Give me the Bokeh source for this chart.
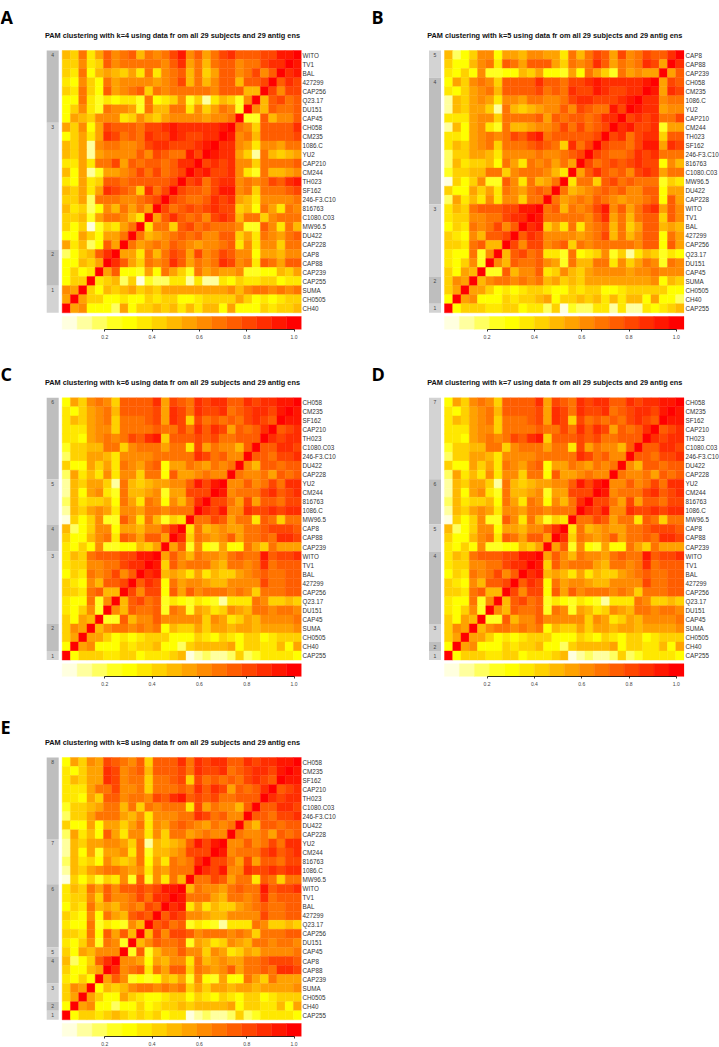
from bokeh.embed import file_html
from bokeh.resources import INLINE
from bokeh.plotting import figure
from bokeh.layouts import column, row
from bokeh.models import ColumnDataSource, FixedTicker, LinearAxis, LinearColorMapper, Range1d
from bokeh.transform import transform
from bokeh.core.properties import value

PALETTE = ["#FFFFDF", "#FFFF9F", "#FFFF60", "#FFFF20", "#FFFF00", "#FFE800", "#FFD100", "#FFB900",
           "#FFA200", "#FF8B00", "#FF7400", "#FF5D00", "#FF4600", "#FF2E00", "#FF1700", "#FF0000"]

# Reference order (panel A, top to bottom); the matrix below is symmetric, so each
# row holds the cells left of and on the diagonal in that panel, in hundredths.
ANTIGENS = ["WITO", "TV1", "BAL", "427299", "CAP256", "Q23.17", "DU151", "CAP45", "CH058", "CM235",
            "1086.C", "YU2", "CAP210", "CM244", "TH023", "SF162", "246-F3.C10", "816763", "C1080.C03",
            "MW96.5", "DU422", "CAP228", "CAP8", "CAP88", "CAP239", "CAP255", "SUMA", "CH0505", "CH40"]
SIMILARITY = [
    [49,43,68,37,56,75,62,68,75,49,68,62,68,81,94,62,75,56,68,81,87,75,75,75,81,81,94,94,100],
    [43,43,62,37,43,75,62,68,68,68,68,68,62,75,87,56,68,49,68,75,75,62,68,68,81,87,87,100],
    [43,37,68,30,49,56,49,43,56,37,68,37,62,68,75,49,68,43,56,75,75,62,68,81,62,75,100],
    [37,30,62,43,30,68,56,62,62,62,62,56,62,68,81,49,68,49,62,75,75,49,75,75,81,100],
    [43,37,68,43,30,75,56,62,68,75,43,68,62,68,68,68,68,68,62,75,75,75,49,49,100],
    [30,30,68,37,24,37,30,37,37,24,68,30,37,43,62,24,43,12,37,49,43,24,62,100],
    [30,43,62,37,24,68,62,62,56,24,68,49,49,68,68,37,62,43,56,68,62,24,100],
    [30,56,49,43,62,62,62,37,43,62,49,43,56,62,62,62,62,56,62,62,68,100],
    [56,43,62,30,56,81,75,75,75,68,81,81,87,94,87,87,87,87,87,94,100],
    [30,43,56,37,56,87,81,68,75,68,87,81,81,94,87,81,81,87,87,100],
    [49,43,56,12,62,68,68,62,62,68,81,87,87,81,81,81,87,94,100],
    [49,43,56,12,56,62,62,62,62,75,62,81,75,68,68,94,81,100],
    [37,37,56,37,68,68,81,56,75,68,75,75,68,75,87,87,100],
    [49,30,56,12,24,56,56,62,68,81,68,81,68,75,81,100],
    [37,30,56,37,43,75,75,68,75,75,75,75,75,81,100],
    [49,43,56,37,56,87,81,75,68,43,87,68,81,100],
    [43,43,56,18,68,68,68,62,62,68,75,81,100],
    [49,37,43,18,30,62,49,68,56,68,56,100],
    [43,43,49,24,56,68,68,62,49,37,100],
    [43,30,43,5,24,43,37,56,68,100],
    [30,30,56,43,30,56,56,68,100],
    [56,37,49,18,30,75,56,100],
    [18,30,43,49,75,87,100],
    [30,30,49,43,56,100],
    [30,43,30,37,100],
    [30,43,43,100],
    [62,56,100],
    [56,100],
    [100],
]

ORDER_B = ["CAP8", "CAP88", "CAP239", "CH058", "CM235", "1086.C", "YU2", "CAP210", "CM244", "TH023",
           "SF162", "246-F3.C10", "816763", "C1080.C03", "MW96.5", "DU422", "CAP228", "WITO", "TV1", "BAL",
           "427299", "CAP256", "Q23.17", "DU151", "CAP45", "SUMA", "CH0505", "CH40", "CAP255"]
ORDER_C = ["CH058", "CM235", "SF162", "CAP210", "TH023", "C1080.C03", "246-F3.C10", "DU422", "CAP228",
           "YU2", "CM244", "816763", "1086.C", "MW96.5", "CAP8", "CAP88", "CAP239", "WITO", "TV1", "BAL",
           "427299", "CAP256", "Q23.17", "DU151", "CAP45", "SUMA", "CH0505", "CH40", "CAP255"]
ORDER_E = ["CH058", "CM235", "SF162", "CAP210", "TH023", "C1080.C03", "246-F3.C10", "DU422", "CAP228",
           "YU2", "CM244", "816763", "1086.C", "MW96.5", "WITO", "TV1", "BAL", "427299", "Q23.17", "CAP256",
           "DU151", "CAP45", "CAP8", "CAP88", "CAP239", "SUMA", "CH0505", "CH40", "CAP255"]

CLUSTERS_A = [8, 14, 4, 3]
CLUSTERS_B = [3, 14, 8, 3, 1]
CLUSTERS_C = [9, 5, 3, 8, 3, 1]
CLUSTERS_D = [9, 5, 3, 8, 2, 1, 1]
CLUSTERS_E = [9, 5, 7, 1, 3, 2, 1, 1]
FIRST_SHADE = {"A": 0, "B": 1, "C": 0, "D": 1, "E": 0}
SHADES = ["#BEBEBE", "#D3D3D3"]
TICKS = [0.2, 0.4, 0.6, 0.8, 1.0]

lookup = {}
for i, r in enumerate(SIMILARITY):
    for j, v in enumerate(r):
        a, b = ANTIGENS[i], ANTIGENS[28 - j]
        lookup[(a, b)] = v / 100
        lookup[(b, a)] = v / 100

HEAT_W, HEAT_H = 239.5, 262.3
CW, RH = HEAT_W / 29, HEAT_H / 29
PER_PX = 0.2 / 47.3
HEAT_TICK02 = 42.6             # pixels from the heat map's left edge to the 0.2 tick
CB_LOW = 0.2 - HEAT_TICK02 * PER_PX
CB_HIGH = CB_LOW + HEAT_W * PER_PX
mapper = LinearColorMapper(palette=PALETTE, low=CB_LOW, high=CB_HIGH)
LEFT_OF_MAP = 15.5             # side bar starts this far left of the heat map
CHROME = "Liberation Sans"


def panel(letter, k, order, clusters, heat_left, heat_top, right, bottom, letter_x, letter_base):
    fw, fh = int(heat_left + HEAT_W + 0.5), int(heat_top + 279.3)
    xr = Range1d(-heat_left / CW, (fw - heat_left) / CW)
    yr = Range1d((fh - heat_top) / RH, -heat_top / RH)
    p = figure(frame_width=fw, frame_height=fh, min_border_left=0, min_border_right=right,
               min_border_top=0, min_border_bottom=bottom, output_backend="svg", toolbar_location=None,
               x_axis_type=None, y_axis_location="right", x_range=xr, y_range=yr,
               outline_line_color=None, background_fill_color="white", border_fill_color="white")
    p.extra_x_ranges = {"cb": Range1d(CB_LOW - heat_left * PER_PX, CB_LOW + (fw - heat_left) * PER_PX)}
    p.grid.visible = False

    xs, ys, vs = [], [], []
    for i, a in enumerate(order):
        for j in range(29):
            xs.append(j); ys.append(i); vs.append(lookup[(a, order[28 - j])])
    src = ColumnDataSource(dict(l=xs, r=[x + 1 for x in xs], t=ys, b=[y + 1 for y in ys], v=vs))
    col = transform("v", mapper)
    p.quad(left="l", right="r", top="t", bottom="b", source=src, fill_color=col, line_color=col, line_width=0.4)

    # side bar with cluster numbers
    start = 0
    side_l, side_r = -LEFT_OF_MAP / CW, (12 - LEFT_OF_MAP) / CW
    for n, size in enumerate(clusters):
        shade = SHADES[(n + FIRST_SHADE[letter]) % 2]
        p.quad(left=side_l, right=side_r, top=start, bottom=start + size, fill_color=shade, line_color=None)
        p.text(x=[(side_l + side_r) / 2], y=[start + 0.5], text=[str(len(clusters) - n)],
               text_font=value(CHROME), text_font_size="5px", text_color="#444444",
               text_align="center", text_baseline="middle")
        start += size

    # colour key
    step = (CB_HIGH - CB_LOW) / len(PALETTE)
    bar_top, bar_bottom = (HEAT_H + 3.7) / RH, (HEAT_H + 17) / RH
    lefts = [CB_LOW + step * n for n in range(len(PALETTE))]
    p.quad(left=lefts, right=[x + step for x in lefts], top=bar_top, bottom=bar_bottom,
           fill_color=PALETTE, line_color=PALETTE, line_width=0.4, x_range_name="cb")
    ax = LinearAxis(x_range_name="cb", ticker=FixedTicker(ticks=TICKS), bounds=(0.2, 1.0),
                    major_tick_in=0, major_tick_out=2, minor_tick_line_color=None,
                    major_label_standoff=3, major_label_text_font=CHROME,
                    major_label_text_font_size="5px", major_label_text_color="#444444",
                    major_label_overrides={1.0: "1.0"},
                    axis_line_color="black", axis_line_width=0.8, major_tick_line_width=0.8)
    p.add_layout(ax, "below")

    # row labels
    y = p.yaxis[0]
    y.ticker = FixedTicker(ticks=[i + 0.5 for i in range(29)])
    y.major_label_overrides = {i + 0.5: name for i, name in enumerate(order)}
    y.axis_line_color = None
    y.major_tick_line_color = None
    y.minor_tick_line_color = None
    y.major_tick_out = 0
    y.major_tick_in = 0
    y.major_label_standoff = 1
    y.major_label_text_font = CHROME
    y.major_label_text_font_size = "6.3px"
    y.major_label_text_color = "#333333"

    title = f"PAM clustering with k={k} using data fr om all 29 subjects and 29 antig ens"
    p.text(x=[-(LEFT_OF_MAP + 1.8) / CW], y=[-15 / RH], text=[title], text_font=value(CHROME),
           text_font_style="bold", text_font_size="7.35px", text_color="#111111",
           text_align="left", text_baseline="middle")
    p.text(x=[(letter_x - heat_left) / CW], y=[(letter_base - heat_top) / RH], text=[letter],
           text_font=value("Open Sans"), text_font_style="bold", text_font_size="18px",
           text_color="black", text_align="left", text_baseline="alphabetic")
    return p


a = panel("A", 4, ANTIGENS, CLUSTERS_A, 61.7, 50, 59, 23, 0, 16)
b = panel("B", 5, ORDER_B, CLUSTERS_B, 84, 50, 35, 23, 11, 16)
c = panel("C", 6, ORDER_C, CLUSTERS_C, 61.7, 45.3, 59, 26, 0, 21)
d = panel("D", 7, ORDER_C, CLUSTERS_D, 84, 45.3, 35, 26, 11, 21)
e = panel("E", 8, ORDER_E, CLUSTERS_E, 61.7, 55, 59, 10, 0, 24)

page = column(row(a, b), row(c, d), e)
open("out.html", "w").write(file_html(page, INLINE))
